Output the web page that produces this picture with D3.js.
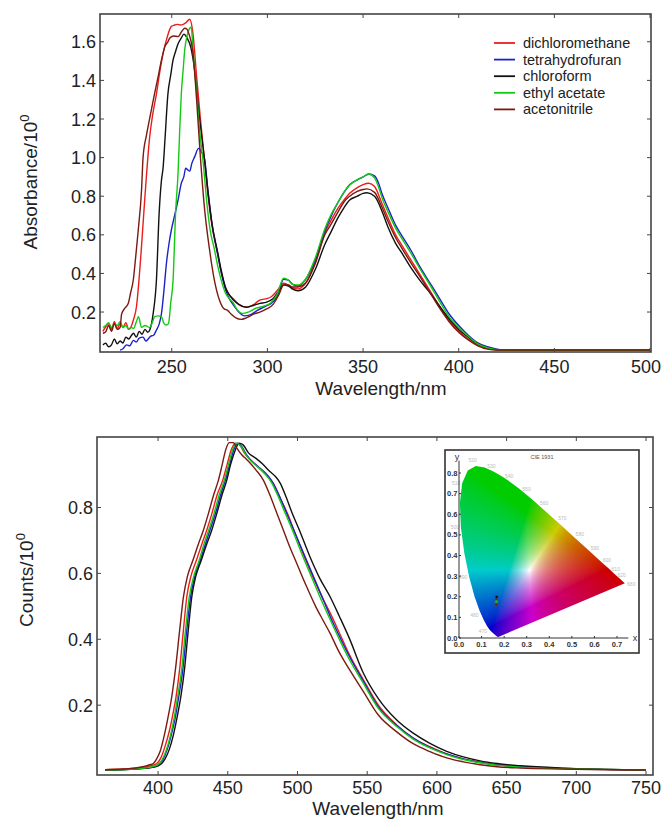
<!DOCTYPE html>
<html>
<head>
<meta charset="utf-8">
<script src="https://d3js.org/d3.v7.min.js"></script>
<style>
  body { margin: 0; background: #fff; }
  svg { display: block; font-family: "Liberation Sans", Arial, sans-serif; }
</style>
</head>
<body>
<div id="chart"></div>
<script>
// solvents, in legend order
var solvents = ["dichloromethane", "tetrahydrofuran", "chloroform", "ethyl acetate", "acetonitrile"];
var colors = ["#ec1c1c", "#1c22c8", "#111111", "#14c814", "#7a1a10"];

// absorption spectra [wavelength nm, absorbance]
var absDCM = [[214,0.10],[215.5,0.124],[217,0.14],[218.5,0.11],[220,0.15],[221.5,0.115],[223,0.14],[224.5,0.12],[226,0.145],[227.5,0.11],[229,0.13],[230,0.16],[231.6,0.23],[233,0.38],[234.2,0.54],[236,0.80],[238.5,1.11],[240,1.22],[242,1.33],[244,1.46],[245.5,1.54],[247.5,1.62],[249.8,1.68],[251,1.685],[253,1.69],[254.3,1.687],[256,1.69],[257.5,1.70],[259.4,1.717],[261,1.65],[263,1.42],[265,1.2],[267,1.0],[269,0.80],[271,0.65],[274,0.50],[276,0.40],[278,0.33],[280,0.29],[282,0.27],[285,0.24],[289,0.225],[293,0.24],[296,0.262],[299,0.268],[302,0.279],[305,0.31],[308.5,0.349],[311,0.34],[313,0.325],[316,0.32],[320,0.35],[325,0.46],[330,0.61],[333,0.67],[337,0.74],[340,0.78],[343,0.815],[347,0.845],[350,0.86],[353,0.867],[356,0.85],[360,0.76],[363,0.69],[367,0.60],[370,0.55],[375,0.47],[380,0.39],[385,0.31],[390,0.23],[395,0.155],[400,0.10],[405,0.06],[410,0.03],[415,0.012],[420,0.005],[425,0.003],[500,0.003]];
var absTHF = [[223,0.003],[224.5,0.01],[226.4,0.03],[228,0.025],[230,0.053],[231.5,0.045],[233,0.065],[235,0.07],[236.5,0.05],[237.7,0.06],[239,0.075],[240.5,0.08],[242,0.107],[243.5,0.14],[244.6,0.19],[246,0.32],[247.2,0.45],[248.5,0.55],[249.8,0.625],[251.5,0.70],[253.3,0.78],[255,0.867],[256.3,0.90],[257.3,0.945],[258.5,0.935],[259.4,0.93],[260.5,0.97],[262,1.005],[264,1.048],[265.5,1.03],[267.2,0.99],[269,0.82],[271,0.66],[274,0.50],[276,0.40],[278,0.32],[280,0.27],[282,0.24],[285,0.20],[288,0.18],[291,0.185],[295,0.21],[299,0.23],[302,0.245],[305,0.28],[308.5,0.37],[311,0.365],[313,0.345],[316,0.335],[320,0.37],[325,0.47],[330,0.62],[333,0.69],[337,0.77],[340,0.82],[343,0.86],[347,0.885],[350,0.90],[353,0.915],[356,0.905],[358,0.87],[360,0.81],[363,0.74],[367,0.65],[370,0.60],[375,0.52],[380,0.43],[385,0.35],[390,0.27],[395,0.19],[400,0.13],[405,0.08],[410,0.04],[415,0.02],[420,0.008],[425,0.003],[500,0.003]];
var absCHCl3 = [[214,0.03],[215.5,0.038],[217,0.02],[218.5,0.03],[220,0.06],[221.5,0.035],[223,0.05],[224.5,0.04],[226,0.07],[227.5,0.06],[229,0.08],[230,0.09],[231.5,0.07],[233,0.10],[234.5,0.085],[236,0.11],[237.5,0.095],[238.5,0.107],[240.3,0.193],[242,0.366],[243.4,0.71],[244.6,0.88],[245.5,0.95],[246.5,1.1],[248,1.33],[249.5,1.43],[250.7,1.506],[252,1.55],[253.3,1.59],[255,1.62],[256.3,1.64],[258,1.62],[260,1.57],[262,1.45],[264,1.25],[267,1.0],[269,0.82],[271,0.66],[274,0.51],[276,0.41],[278,0.33],[280,0.29],[282,0.265],[285,0.24],[289,0.225],[293,0.235],[296,0.245],[299.3,0.25],[303,0.27],[306,0.31],[308.5,0.34],[311,0.335],[313,0.32],[316,0.31],[320,0.33],[325,0.42],[330,0.55],[333,0.61],[337,0.69],[340,0.74],[343,0.78],[347,0.80],[350,0.815],[352,0.818],[356,0.80],[360,0.72],[363,0.64],[367,0.556],[370,0.51],[375,0.43],[380,0.36],[385,0.30],[390,0.23],[395,0.165],[400,0.11],[405,0.07],[410,0.035],[415,0.015],[420,0.005],[425,0.003],[500,0.003]];
var absEtOAc = [[214,0.12],[215.5,0.13],[217,0.145],[218.5,0.12],[220,0.14],[221.5,0.13],[223,0.15],[224.5,0.12],[226,0.13],[227.5,0.11],[229,0.12],[230,0.115],[231.5,0.15],[232.6,0.176],[234.2,0.12],[236,0.13],[238.5,0.12],[240,0.15],[241.1,0.176],[243,0.18],[244.6,0.176],[246,0.14],[247.2,0.133],[248.3,0.14],[249.5,0.25],[250.7,0.366],[252,0.71],[253.3,0.92],[254.2,1.15],[255,1.33],[256,1.46],[256.8,1.56],[258,1.63],[259.4,1.67],[260.2,1.675],[261,1.58],[263,1.33],[265,1.1],[266.5,0.97],[268,0.80],[270,0.63],[272.4,0.52],[274,0.44],[276,0.36],[278,0.30],[280,0.27],[282,0.25],[284,0.215],[287,0.193],[290,0.20],[294,0.22],[298,0.23],[302,0.25],[305,0.29],[308.5,0.375],[311,0.365],[313,0.345],[316,0.34],[320,0.37],[325,0.48],[330,0.63],[333,0.70],[337,0.77],[340,0.82],[343,0.858],[347,0.885],[350,0.90],[353,0.915],[356,0.895],[358,0.85],[360,0.79],[363,0.72],[367,0.635],[370,0.585],[375,0.505],[380,0.42],[385,0.34],[390,0.255],[395,0.175],[400,0.12],[405,0.075],[410,0.035],[415,0.015],[420,0.005],[425,0.003],[500,0.003]];
var absMeCN = [[214,0.09],[215.5,0.098],[217,0.13],[218.5,0.10],[220,0.14],[221.5,0.11],[223,0.12],[223.8,0.19],[225.5,0.22],[227.3,0.245],[228.5,0.30],[229.9,0.366],[231,0.47],[232.5,0.625],[234.2,0.83],[235,1.0],[236.8,1.117],[238,1.18],[239.4,1.25],[241,1.33],[242.9,1.42],[244.5,1.50],[246.4,1.575],[248,1.60],[249,1.62],[251,1.63],[253.3,1.627],[255,1.65],[256.8,1.67],[258,1.665],[259,1.64],[261,1.55],[263,1.30],[265,1.0],[267,0.75],[269.8,0.52],[272,0.38],[275,0.26],[277.6,0.215],[279,0.21],[281,0.19],[283.5,0.17],[286.3,0.162],[289,0.17],[293,0.19],[296,0.20],[299.3,0.215],[303,0.24],[306,0.29],[308.5,0.34],[311,0.34],[313,0.33],[316,0.33],[320,0.35],[325,0.45],[330,0.60],[333,0.65],[337,0.72],[340,0.77],[343,0.80],[347,0.825],[350,0.835],[352,0.838],[356,0.82],[360,0.74],[363,0.67],[367,0.585],[370,0.535],[375,0.455],[380,0.38],[385,0.30],[390,0.22],[395,0.15],[400,0.095],[405,0.055],[410,0.025],[415,0.008],[420,0.003],[500,0.003]];

// emission spectra [wavelength nm, normalised counts]
var emDCM = [[362,0.004],[375,0.006],[385,0.009],[390,0.012],[395,0.016],[399,0.023],[402,0.04],[405,0.075],[408,0.12],[410.5,0.17],[412.9,0.225],[415.5,0.31],[418,0.42],[420.6,0.529],[423.5,0.59],[427.5,0.64],[431.5,0.69],[434.9,0.731],[438.5,0.78],[442.5,0.84],[446.4,0.883],[449.5,0.93],[452.5,0.975],[455.5,0.995],[458.5,0.99],[462,0.965],[466,0.945],[470,0.93],[475,0.91],[479,0.895],[483,0.87],[488,0.825],[493,0.78],[498,0.725],[505,0.65],[512,0.58],[518,0.525],[523.4,0.48],[530,0.42],[537,0.355],[547.3,0.277],[558,0.20],[571.2,0.14],[583,0.10],[595,0.074],[607,0.052],[619,0.037],[631,0.027],[643,0.019],[660,0.013],[690,0.008],[720,0.005],[750,0.003]];
var emTHF = [[362,0.003],[380,0.005],[390,0.008],[396,0.012],[400,0.019],[403.5,0.035],[406.5,0.065],[409.5,0.11],[412.2,0.16],[414.8,0.225],[417.8,0.31],[420.4,0.42],[423.3,0.529],[426.3,0.59],[430.3,0.64],[434,0.69],[437.2,0.731],[441,0.78],[445,0.84],[448.3,0.883],[451.3,0.93],[454.3,0.975],[457,0.995],[460,0.985],[463.5,0.96],[467.5,0.94],[471.5,0.925],[477,0.905],[482,0.878],[487,0.835],[492,0.785],[498,0.725],[505,0.655],[512,0.585],[518,0.525],[523.4,0.47],[530,0.41],[537,0.35],[547.3,0.272],[558,0.195],[571.2,0.138],[583,0.10],[595,0.072],[607,0.052],[619,0.037],[631,0.026],[643,0.019],[660,0.013],[690,0.008],[720,0.005],[750,0.003]];
var emCHCl3 = [[362,0.003],[380,0.005],[390,0.008],[396,0.011],[400,0.016],[402.6,0.023],[405,0.037],[408,0.065],[411,0.11],[413.5,0.16],[416.3,0.225],[419,0.31],[421.5,0.42],[424.2,0.529],[427,0.59],[431,0.64],[435,0.69],[438.5,0.731],[442,0.78],[446,0.84],[449.3,0.883],[452,0.93],[455,0.97],[458,0.995],[461,0.99],[465,0.965],[470,0.95],[475,0.932],[480,0.91],[484,0.895],[487.5,0.875],[492,0.83],[496,0.785],[501.4,0.731],[509,0.65],[516,0.585],[523.4,0.529],[530,0.47],[537,0.405],[547.3,0.297],[558,0.22],[571.2,0.155],[583,0.115],[595,0.084],[607,0.06],[619,0.043],[631,0.031],[643,0.023],[660,0.016],[690,0.009],[720,0.005],[750,0.003]];
var emEtOAc = [[362,0.003],[380,0.005],[390,0.009],[396,0.013],[400,0.02],[403,0.035],[406,0.065],[409,0.11],[411.5,0.16],[414,0.225],[417,0.31],[419.5,0.42],[422.4,0.529],[425.5,0.59],[429.5,0.64],[433,0.69],[436.3,0.731],[440,0.78],[444,0.84],[447.5,0.883],[450.5,0.93],[453.5,0.975],[456.5,0.995],[459.5,0.985],[463,0.96],[467,0.94],[471,0.925],[476,0.905],[481.5,0.875],[486,0.835],[491,0.785],[497,0.725],[504,0.65],[511,0.58],[517,0.52],[523.4,0.46],[530,0.40],[537,0.34],[547.3,0.266],[558,0.19],[571.2,0.135],[583,0.097],[595,0.07],[607,0.05],[619,0.035],[631,0.025],[643,0.018],[660,0.012],[690,0.007],[720,0.005],[750,0.003]];
var emMeCN = [[362,0.004],[375,0.006],[385,0.01],[390,0.014],[394,0.019],[396.6,0.023],[399,0.037],[401.5,0.06],[404,0.1],[407,0.16],[409.8,0.225],[412.5,0.31],[415.3,0.42],[418.2,0.529],[421,0.59],[425,0.64],[429,0.69],[432.5,0.731],[436,0.78],[440,0.84],[443.3,0.883],[446,0.93],[448.5,0.975],[451,0.997],[454,0.997],[456.5,0.98],[460,0.96],[463,0.948],[466,0.935],[470,0.915],[475.5,0.883],[480,0.84],[485,0.785],[489.9,0.731],[494.5,0.68],[499.5,0.63],[506,0.565],[513,0.50],[518,0.46],[523.4,0.418],[530,0.36],[537,0.31],[547.3,0.241],[558,0.17],[571.2,0.119],[583,0.083],[595,0.059],[607,0.04],[619,0.028],[631,0.019],[643,0.013],[660,0.009],[690,0.006],[720,0.004],[750,0.003]];

var absSeries = [absDCM, absTHF, absCHCl3, absEtOAc, absMeCN];
var emSeries = [emDCM, emTHF, emCHCl3, emEtOAc, emMeCN];

// tick values
var absXTicks = [250, 300, 350, 400, 450, 500];
var absYTicks = [0.2, 0.4, 0.6, 0.8, 1.0, 1.2, 1.4, 1.6];
var emXTicks = [400, 450, 500, 550, 600, 650, 700, 750];
var emYTicks = [0.2, 0.4, 0.6, 0.8];

// CIE 1931 spectral locus [nm, x, y]
var locus = [[380,0.1741,0.0050],[400,0.1733,0.0048],[420,0.1714,0.0051],[440,0.1644,0.0109],[450,0.1566,0.0177],[460,0.1440,0.0297],[465,0.1355,0.0399],[470,0.1241,0.0578],[475,0.1096,0.0868],[480,0.0913,0.1327],[485,0.0687,0.2007],[490,0.0454,0.2950],[495,0.0235,0.4127],[500,0.0082,0.5384],[505,0.0039,0.6548],[510,0.0139,0.7502],[515,0.0389,0.8120],[520,0.0743,0.8338],[525,0.1142,0.8262],[530,0.1547,0.8059],[535,0.1929,0.7816],[540,0.2296,0.7543],[545,0.2658,0.7243],[550,0.3016,0.6923],[555,0.3373,0.6589],[560,0.3731,0.6245],[565,0.4087,0.5896],[570,0.4441,0.5547],[575,0.4788,0.5202],[580,0.5125,0.4866],[585,0.5448,0.4544],[590,0.5752,0.4242],[595,0.6029,0.3965],[600,0.6270,0.3725],[605,0.6482,0.3514],[610,0.6658,0.3340],[620,0.6915,0.3083],[630,0.7079,0.2920],[640,0.7190,0.2809],[650,0.7260,0.2740],[680,0.7347,0.2653],[700,0.7347,0.2653]];
var locusLabels = [470, 480, 490, 500, 510, 520, 530, 540, 550, 560, 570, 580, 590, 600, 610, 620, 680];
var cieTicksX = [0, 0.1, 0.2, 0.3, 0.4, 0.5, 0.6, 0.7];
var cieTicksY = [0, 0.1, 0.2, 0.3, 0.4, 0.5, 0.6, 0.7, 0.8];
// measured CIE coordinates per solvent
var cieX = [0.165, 0.166, 0.167, 0.166, 0.165];
var cieY = [0.167, 0.184, 0.199, 0.176, 0.162];

var W = 663, H = 819;
var svg = d3.select("#chart").append("svg").attr("width", W).attr("height", H);
var frameColor = "#444";

function drawFrame(g, x, y, xt, yt, fmtY, labOff) {
  var x0 = x.range()[0], x1 = x.range()[1], y0 = y.range()[0], y1 = y.range()[1];
  // inward ticks on all four sides
  xt.forEach(function(v, i) {
    g.append("line").attr("x1", x(v)).attr("x2", x(v)).attr("y1", y0).attr("y2", y0 - 4).attr("stroke", frameColor);
    g.append("line").attr("x1", x(v)).attr("x2", x(v)).attr("y1", y1).attr("y2", y1 + 4).attr("stroke", frameColor);
    var last = i === xt.length - 1 && x(v) + 15 > W;
    g.append("text").attr("x", last ? W - 2 : x(v)).attr("y", y0 + labOff)
      .attr("text-anchor", last ? "end" : "middle")
      .attr("font-size", 18).attr("fill", "#222").text(v);
  });
  yt.forEach(function(v) {
    g.append("line").attr("x1", x0).attr("x2", x0 + 4).attr("y1", y(v)).attr("y2", y(v)).attr("stroke", frameColor);
    g.append("line").attr("x1", x1).attr("x2", x1 - 4).attr("y1", y(v)).attr("y2", y(v)).attr("stroke", frameColor);
    g.append("text").attr("x", x0 - 4).attr("y", y(v) + 6.5).attr("text-anchor", "end")
      .attr("font-size", 18).attr("fill", "#222").text(fmtY(v));
  });
  g.append("rect").attr("x", x0).attr("y", y1).attr("width", x1 - x0).attr("height", y0 - y1)
    .attr("fill", "none").attr("stroke", frameColor).attr("stroke-width", 1.6);
}

function drawLines(g, x, y, series) {
  var line = d3.line().x(function(d) { return x(d[0]); }).y(function(d) { return y(d[1]); })
    .curve(d3.curveMonotoneX);
  g.selectAll("path.spec").data(series).enter().append("path")
    .attr("class", "spec")
    .attr("d", line)
    .attr("fill", "none")
    .attr("stroke", function(d, i) { return colors[i]; })
    .attr("stroke-width", 1.4);
}

function yLabel(g, cx, cy, txt) {
  var t = g.append("text").attr("transform", "translate(" + cx + "," + cy + ") rotate(-90)")
    .attr("text-anchor", "middle").attr("font-size", 19).attr("fill", "#222");
  t.append("tspan").text(txt);
  t.append("tspan").attr("dy", -8).attr("font-size", 13).text("0");
}

// ---------- absorption ----------
var xA = d3.scaleLinear().domain([212.5, 500.5]).range([100, 651]);
var yA = d3.scaleLinear().domain([-0.007, 1.744]).range([352, 14]);
var gA = svg.append("g");
drawLines(gA, xA, yA, absSeries);
drawFrame(gA, xA, yA, absXTicks, absYTicks, d3.format(".1f"), 21);
gA.append("text").attr("x", 381).attr("y", 395).attr("text-anchor", "middle")
  .attr("font-size", 19).attr("fill", "#222").text("Wavelength/nm");
yLabel(gA, 37, 182, "Absorbance/10");

// legend
var leg = gA.selectAll("g.leg").data(solvents).enter().append("g").attr("class", "leg")
  .attr("transform", function(d, i) { return "translate(0," + (43 + i * 16.6) + ")"; });
leg.append("line").attr("x1", 494).attr("x2", 515).attr("y1", 0).attr("y2", 0)
  .attr("stroke", function(d, i) { return colors[i]; }).attr("stroke-width", 1.8);
leg.append("text").attr("x", 523).attr("y", 5).attr("font-size", 14.5).attr("fill", "#222")
  .text(function(d) { return d; });

// ---------- emission ----------
var xE = d3.scaleLinear().domain([356.2, 755]).range([97, 653]);
var yE = d3.scaleLinear().domain([-0.012, 1.014]).range([775, 437]);
var gE = svg.append("g");
drawLines(gE, xE, yE, emSeries);
drawFrame(gE, xE, yE, emXTicks, emYTicks, d3.format(".1f"), 19);
gE.append("text").attr("x", 378).attr("y", 815).attr("text-anchor", "middle")
  .attr("font-size", 19).attr("fill", "#222").text("Wavelength/nm");
yLabel(gE, 33, 580, "Counts/10");

// ---------- CIE inset ----------
var gI = svg.append("g");
gI.append("rect").attr("x", 445).attr("y", 450).attr("width", 194).attr("height", 203)
  .attr("fill", "#fff").attr("stroke", "#333").attr("stroke-width", 1.6);
var cx = d3.scaleLinear().domain([0, 0.7]).range([459, 617]);
var cy = d3.scaleLinear().domain([0, 0.8]).range([638, 473]);

// colour fill of the horseshoe, painted on a canvas then clipped to the locus
var px0 = 455, py0 = 460, pw = 180, ph = 182;
var canvas = document.createElement("canvas");
canvas.width = pw; canvas.height = ph;
var ctx = canvas.getContext("2d");
var img = ctx.createImageData(pw, ph);
function gam(c) { return Math.pow(c, 1 / 1.5); }
for (var j = 0; j < ph; j++) {
  for (var i = 0; i < pw; i++) {
    var xx = cx.invert(px0 + i + 0.5), yy = cy.invert(py0 + j + 0.5);
    if (yy <= 0.001) yy = 0.001;
    var X = xx / yy, Y = 1, Z = (1 - xx - yy) / yy;
    var r = 3.2406 * X - 1.5372 * Y - 0.4986 * Z,
        g = -0.9689 * X + 1.8758 * Y + 0.0415 * Z,
        b = 0.0557 * X - 0.2040 * Y + 1.0570 * Z;
    r = Math.max(r, 0); g = Math.max(g, 0); b = Math.max(b, 0);
    var m = Math.max(r, g, b) || 1;
    var sat = Math.min(r, g, b) / m;
    var f = 0.8 + 0.2 * sat;
    var k = (j * pw + i) * 4;
    img.data[k] = 255 * f * gam(r / m);
    img.data[k + 1] = 255 * f * gam(g / m);
    img.data[k + 2] = 255 * f * gam(b / m);
    img.data[k + 3] = 255;
  }
}
ctx.putImageData(img, 0, 0);

var locusLine = d3.line().x(function(d) { return cx(d[1]); }).y(function(d) { return cy(d[2]); });
svg.append("defs").append("clipPath").attr("id", "horseshoe")
  .append("path").attr("d", locusLine(locus) + "Z");
gI.append("image").attr("x", px0).attr("y", py0).attr("width", pw).attr("height", ph)
  .attr("href", canvas.toDataURL()).attr("clip-path", "url(#horseshoe)");

// wavelength labels round the locus (pushed out from the white point,
// sideways only on the steep left edge)
var wp = [0.33, 0.33], lo = 6.5;
function labelPos(d) {
  if (d[1] < 0.05) return [cx(d[1]) - 6, cy(d[2]) + 2];
  var dx = cx(d[1]) - cx(wp[0]), dy = cy(d[2]) - cy(wp[1]), l = Math.sqrt(dx * dx + dy * dy);
  return [cx(d[1]) + dx / l * lo, cy(d[2]) + dy / l * lo + 2];
}
gI.selectAll("text.wl").data(locus.filter(function(d) { return locusLabels.indexOf(d[0]) >= 0; }))
  .enter().append("text").attr("class", "wl")
  .attr("x", function(d) { return labelPos(d)[0]; })
  .attr("y", function(d) { return labelPos(d)[1]; })
  .attr("text-anchor", "middle").attr("font-size", 5).attr("fill", "#bbb")
  .text(function(d) { return d[0]; });

// inset axes
gI.append("line").attr("x1", cx(0)).attr("x2", cx(0.75)).attr("y1", cy(0)).attr("y2", cy(0)).attr("stroke", "#333");
gI.append("line").attr("x1", cx(0)).attr("x2", cx(0)).attr("y1", cy(0)).attr("y2", cy(0.86)).attr("stroke", "#333");
cieTicksX.forEach(function(v) {
  gI.append("line").attr("x1", cx(v)).attr("x2", cx(v)).attr("y1", cy(0)).attr("y2", cy(0) - 2).attr("stroke", "#333");
  gI.append("text").attr("x", cx(v)).attr("y", cy(0) + 9).attr("text-anchor", "middle")
    .attr("font-size", 7.5).attr("font-weight", "bold").attr("fill", "#333").text(d3.format(".1f")(v));
});
cieTicksY.forEach(function(v) {
  gI.append("line").attr("x1", cx(0)).attr("x2", cx(0) + 2).attr("y1", cy(v)).attr("y2", cy(v)).attr("stroke", "#333");
  gI.append("text").attr("x", cx(0) - 1.5).attr("y", cy(v) + 2.5).attr("text-anchor", "end")
    .attr("font-size", 7.5).attr("font-weight", "bold").attr("fill", "#333").text(d3.format(".1f")(v));
});
gI.append("text").attr("x", cx(0.77)).attr("y", cy(0) + 3).attr("font-size", 9).attr("fill", "#333").text("x");
gI.append("text").attr("x", cx(0) - 2).attr("y", cy(0.86) - 1).attr("text-anchor", "middle")
  .attr("font-size", 9).attr("fill", "#333").text("y");
gI.append("text").attr("x", 542).attr("y", 459).attr("text-anchor", "middle")
  .attr("font-size", 5.5).attr("fill", "#555").text("CIE 1931");

// solvent CIE points
gI.selectAll("circle.pt").data(cieX).enter().append("circle").attr("class", "pt")
  .attr("cx", function(d) { return cx(d); })
  .attr("cy", function(d, i) { return cy(cieY[i]); })
  .attr("r", 1.6)
  .attr("fill", function(d, i) { return colors[i]; })
  .attr("stroke", "#555").attr("stroke-width", 0.5);
</script>
</body>
</html>
